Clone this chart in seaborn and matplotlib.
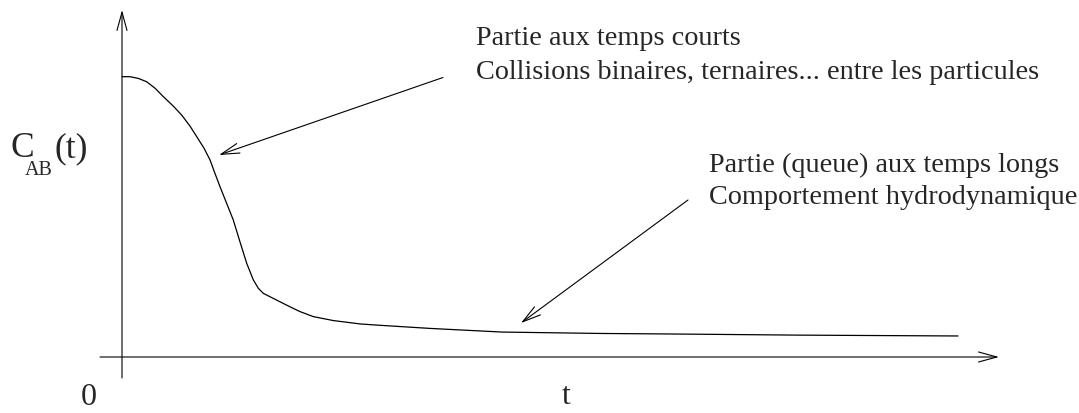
import matplotlib
matplotlib.use("Agg")
import matplotlib.pyplot as plt
import seaborn as sns

# Schematic correlation function C_AB(t) (arbitrary units)
t_vals = [0.0, 0.096, 0.195, 0.295, 0.395, 0.494, 0.614, 0.714, 0.813, 0.894,
          0.981, 1.053, 1.112, 1.172, 1.252, 1.331, 1.411, 1.492, 1.571, 1.631,
          1.691, 1.850, 2.010, 2.129, 2.289, 2.528, 2.847, 3.038, 3.684, 4.545,
          5.718, 6.615, 8.110, 10.0]
c_vals = [1.000, 1.000, 0.994, 0.982, 0.959, 0.929, 0.895, 0.863, 0.824, 0.786,
          0.745, 0.703, 0.655, 0.608, 0.548, 0.489, 0.411, 0.334, 0.275, 0.245,
          0.227, 0.203, 0.179, 0.162, 0.144, 0.130, 0.118, 0.114, 0.102, 0.089,
          0.084, 0.082, 0.078, 0.075]

ylabel_main = "C"
ylabel_sub = "AB"
ylabel_tail = "(t)"
xlabel_txt = "t"
origin_txt = "0"
short_lines = ["Partie aux temps courts",
               "Collisions binaires, ternaires... entre les particules"]
long_lines = ["Partie (queue) aux temps longs",
              "Comportement hydrodynamique"]

sns.set_theme(style="white")
plt.rcParams["font.family"] = ["Liberation Serif", "DejaVu Serif"]

W, H = 1079, 413
fig = plt.figure(figsize=(W / 100, H / 100), dpi=100)
ax = fig.add_axes([0, 0, 1, 1])

# layout: pixel position of origin and scale of the schematic
X0, Y0, SX, SY = 122.0, 357.0, 83.6, 280.3
ax.set_xlim((0 - X0) / SX, (W - X0) / SX)
ax.set_ylim((Y0 - H) / SY, Y0 / SY)
ax.axis("off")


def fx(px):
    return px / W


def fy(py):
    return 1 - py / H


sns.lineplot(x=t_vals, y=c_vals, ax=ax, color="black", linewidth=0.9,
             sort=False, estimator=None)

arrow_kw = dict(arrowstyle="->,head_length=1.1,head_width=0.3",
                color="black", lw=0.8, shrinkA=0, shrinkB=0)
ff = "figure fraction"
# axes with arrows
ax.annotate("", xy=(fx(999), fy(Y0)), xytext=(fx(100), fy(Y0)),
            xycoords=ff, textcoords=ff, arrowprops=arrow_kw)
ax.annotate("", xy=(fx(X0), fy(10)), xytext=(fx(X0), fy(378)),
            xycoords=ff, textcoords=ff, arrowprops=arrow_kw)

# annotation arrows
ax.annotate("", xy=(fx(219), fy(155)), xytext=(fx(443), fy(77.5)),
            xycoords=ff, textcoords=ff, arrowprops=arrow_kw)
ax.annotate("", xy=(fx(521), fy(323)), xytext=(fx(688), fy(200)),
            xycoords=ff, textcoords=ff, arrowprops=arrow_kw)

fs = 20.3
fig.text(fx(476), fy(45), short_lines[0], fontsize=fs, ha="left", va="baseline")
fig.text(fx(476), fy(79), short_lines[1], fontsize=fs, ha="left", va="baseline")
fig.text(fx(709), fy(172), long_lines[0], fontsize=fs, ha="left", va="baseline")
fig.text(fx(709), fy(204), long_lines[1], fontsize=fs, ha="left", va="baseline")

fig.text(fx(11), fy(157), ylabel_main, fontsize=25.5, ha="left", va="baseline")
fig.text(fx(25), fy(175), ylabel_sub, fontsize=14.5, ha="left", va="baseline")
fig.text(fx(54), fy(157), ylabel_tail, fontsize=25.5, ha="left", va="baseline")

fig.text(fx(88.5), fy(405), origin_txt, fontsize=23, ha="center", va="baseline")
fig.text(fx(566), fy(404), xlabel_txt, fontsize=23, ha="center", va="baseline")

fig.savefig("out.png", dpi=100)
